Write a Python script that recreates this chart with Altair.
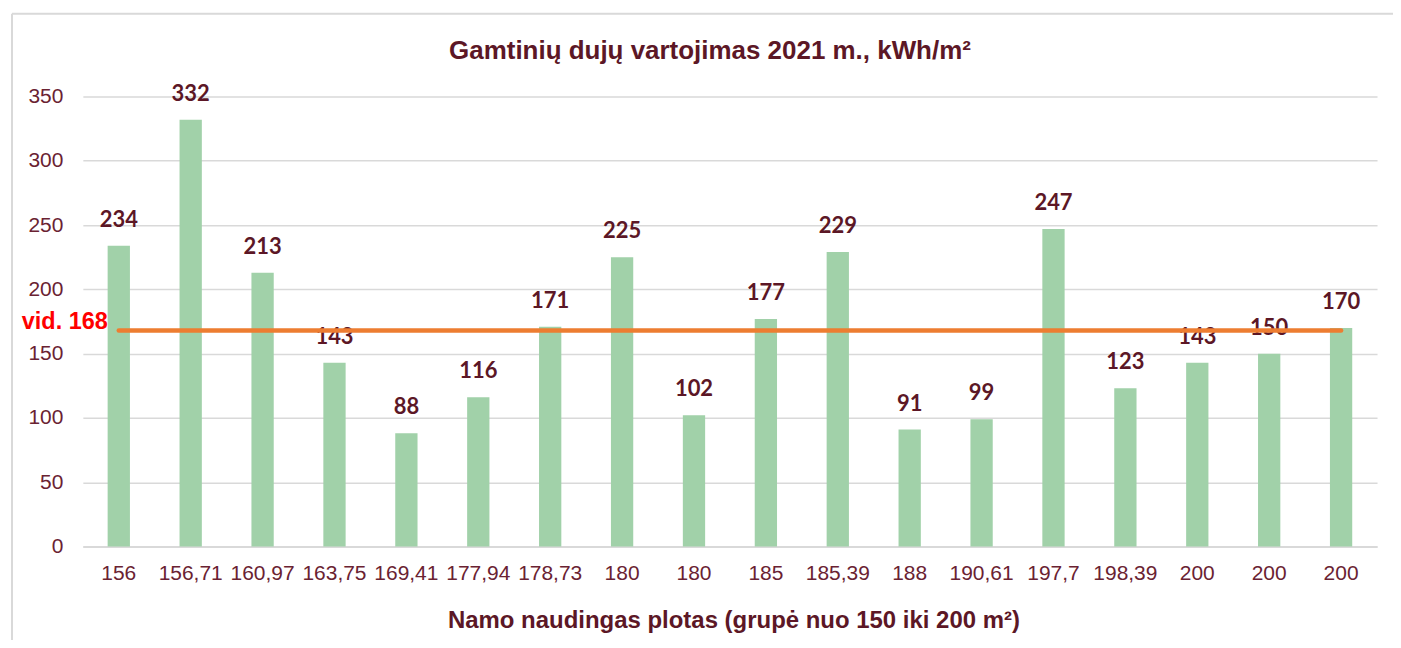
import altair as alt
import pandas as pd

labels = ["156", "156,71", "160,97", "163,75", "169,41", "177,94", "178,73", "180",
          "180", "185", "185,39", "188", "190,61", "197,7", "198,39", "200", "200", "200"]
values = [234, 332, 213, 143, 88, 116, 171, 225, 102, 177, 229, 91, 99, 247, 123, 143, 150, 170]
average = 168
avg_label = "vid. 168"

title_text = "Gamtinių dujų vartojimas 2021 m., kWh/m²"
x_title = "Namo naudingas plotas (grupė nuo 150 iki 200 m²)"

keys = [str(i) for i in range(len(labels))]
df = pd.DataFrame({"key": keys, "label": labels, "value": values})
avg_df = pd.DataFrame({"key": [keys[0], keys[-1]], "value": [average, average]})
avg_txt = pd.DataFrame({"key": [keys[0]], "value": [average], "text": [avg_label]})

MAROON = "#5c1726"
TICK = "#6a2232"
label_arr = "[" + ",".join("'" + l + "'" for l in labels) + "]"

x_enc = alt.X("key:N", sort=keys,
              scale=alt.Scale(paddingInner=0.69, paddingOuter=0.345),
              axis=alt.Axis(title=x_title, labelExpr=label_arr + "[toNumber(datum.value)]",
                            labelAngle=0, labelFont="Liberation Sans", labelFontSize=21,
                            labelColor=TICK, labelPadding=16, ticks=False,
                            domainColor="#d9d9d9", domainWidth=2,
                            titleFont="Liberation Sans", titleFontSize=24, titleFontWeight="bold",
                            titleColor=MAROON, titleBaseline="alphabetic", titleAlign="center",
                            titleX=652, titleY=81))
y_enc = alt.Y("value:Q", scale=alt.Scale(domain=[0, 350], nice=False),
              axis=alt.Axis(title=None, values=list(range(0, 351, 50)), domain=False, ticks=False,
                            labelFont="Liberation Sans", labelFontSize=21, labelColor=TICK,
                            labelPadding=20, gridColor="#d9d9d9", gridWidth=1.5))

base = alt.Chart(df)
bars = base.mark_bar(color="#a1d1a9").encode(x=x_enc, y=y_enc)
texts = base.mark_text(font="Lato", fontSize=22, fontWeight="bold", color=MAROON,
                       baseline="alphabetic", dy=-19).encode(
    x=alt.X("key:N", sort=keys), y="value:Q", text="value:Q")
avg_line = alt.Chart(avg_df).mark_line(color="#ed7d31", strokeWidth=4.5, strokeCap="round").encode(
    x=alt.X("key:N", sort=keys), y="value:Q")
avg_text = alt.Chart(avg_txt).mark_text(font="Liberation Sans", fontSize=23.5, fontWeight="bold",
                                         color="#ff0000", align="right", baseline="alphabetic",
                                         dx=-11, dy=-2).encode(
    x=alt.X("key:N", sort=keys), y="value:Q", text="text:N")
one = pd.DataFrame({"a": [0]})
border_top = alt.Chart(one).mark_rule(color="#d9d9d9", strokeWidth=2).encode(
    x=alt.value(-71), x2=alt.value(1318), y=alt.value(-83))
border_left = alt.Chart(one).mark_rule(color="#d9d9d9", strokeWidth=2).encode(
    x=alt.value(-71), y=alt.value(-83), y2=alt.value(560))

chart = alt.layer(border_top, border_left, bars, texts, avg_line, avg_text).properties(
    width=1297, height=451,
    title=alt.TitleParams(title_text, font="Liberation Sans", fontSize=26, fontWeight="bold",
                          color=MAROON, anchor="middle", offset=0, baseline="alphabetic",
                          dy=72, dx=-20),
    autosize=alt.AutoSizeParams(type="none"),
    padding={"left": 75, "top": 88, "right": 16, "bottom": 93},
).configure_view(stroke=None)

chart.save("out.html", embed_options={"renderer": "svg", "actions": False})
